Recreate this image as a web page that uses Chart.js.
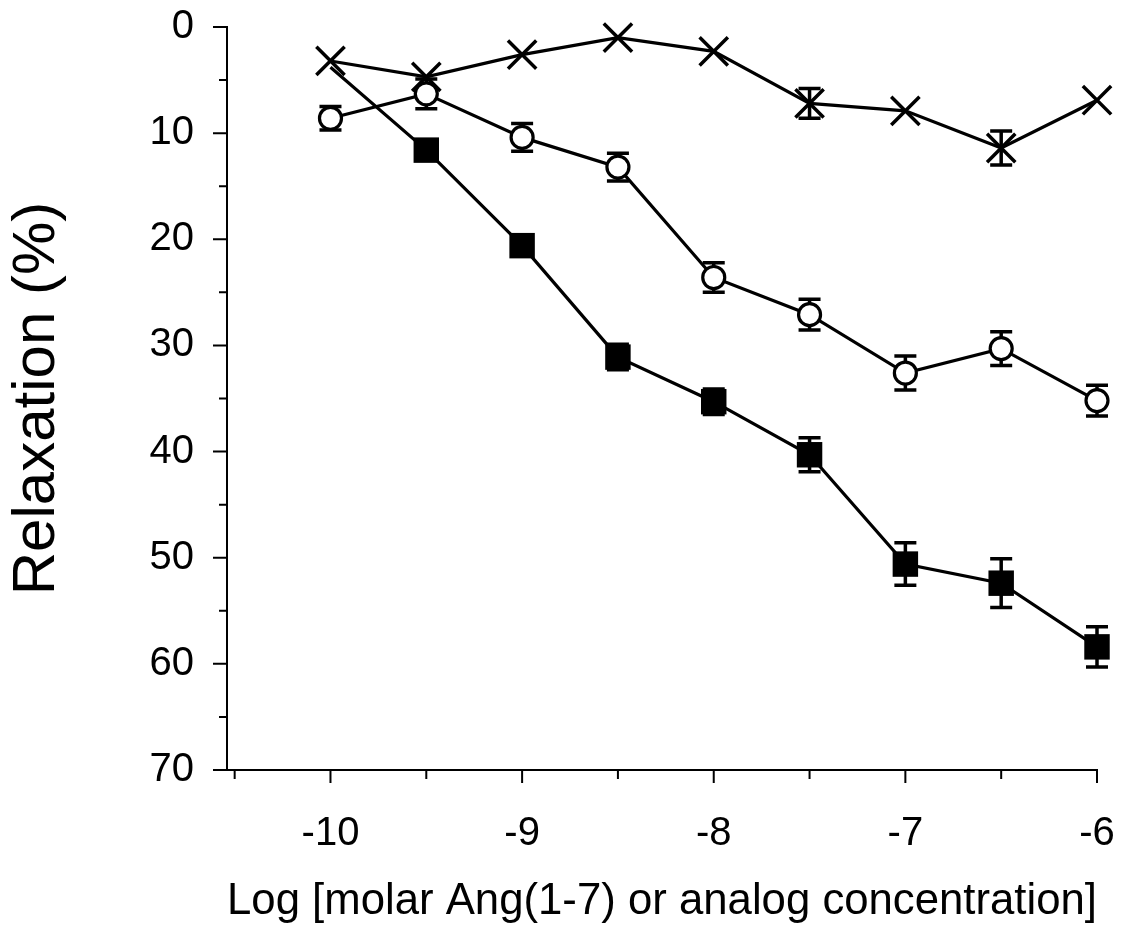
<!DOCTYPE html>
<html>
<head>
<meta charset="utf-8">
<script src="https://cdn.jsdelivr.net/npm/chart.js@4.4.1/dist/chart.umd.min.js"></script>
<style>
  body { margin: 0; background: #fff; }
</style>
</head>
<body>
<canvas id="chart" width="1130" height="934"></canvas>
<script>
// Log concentración (eje X)
const logConc = [-10, -9.5, -9, -8.5, -8, -7.5, -7, -6.5, -6];

// Serie X (cruces)
const crossVals = [3.2, 4.7, 2.6, 1.0, 2.3, 7.2, 7.9, 11.4, 6.9];
const crossErr = [0, 0, 0, 0, 0, 1.4, 0, 1.6, 0];

// Serie círculos abiertos
const circleVals = [8.6, 6.3, 10.4, 13.2, 23.6, 27.1, 32.6, 30.3, 35.2];
const circleErr = [1.1, 1.4, 1.3, 1.3, 1.4, 1.45, 1.6, 1.6, 1.45];

// Serie cuadrados llenos
const squareVals = [3.8, 11.6, 20.6, 31.1, 35.3, 40.3, 50.6, 52.4, 58.4];
const squareErr = [0, 0.9, 0.9, 1.2, 1.2, 1.6, 2.0, 2.3, 1.9];

const FONT = "Arial, 'Liberation Sans', sans-serif";

function toPoints(vals) {
    return logConc.map((x, i) => ({ x: x, y: vals[i] }));
}

// Barras de error (se dibujan antes que los marcadores para que queden debajo)
const errorBarsPlugin = {
    id: 'errorBars',
    beforeDatasetsDraw(chart) {
        const { ctx, scales: { x, y } } = chart;
        ctx.save();
        ctx.strokeStyle = '#000';
        ctx.lineWidth = 3.5;
        chart.data.datasets.forEach((ds) => {
            ds.errors.forEach((e, i) => {
                if (!e) return;
                const px = x.getPixelForValue(ds.data[i].x);
                const top = y.getPixelForValue(ds.data[i].y - e);
                const bot = y.getPixelForValue(ds.data[i].y + e);
                const cap = 11;
                ctx.beginPath();
                ctx.moveTo(px, top);
                ctx.lineTo(px, bot);
                ctx.moveTo(px - cap, top);
                ctx.lineTo(px + cap, top);
                ctx.moveTo(px - cap, bot);
                ctx.lineTo(px + cap, bot);
                ctx.stroke();
            });
        });
        ctx.restore();
    }
};

// Marcas de los ejes (mayores y menores, hacia afuera)
const axisTicksPlugin = {
    id: 'axisTicks',
    afterDraw(chart) {
        const { ctx, scales: { x, y } } = chart;
        ctx.save();
        ctx.strokeStyle = '#000';
        ctx.lineWidth = 2;
        ctx.beginPath();
        y.ticks.forEach((t) => {
            const py = y.getPixelForValue(t.value);
            const len = t.value % 10 === 0 ? 14 : 8;
            ctx.moveTo(x.left - len, py);
            ctx.lineTo(x.left, py);
        });
        x.ticks.forEach((t) => {
            const px = x.getPixelForValue(t.value);
            const len = Number.isInteger(t.value) ? 13 : 9;
            ctx.moveTo(px, y.bottom);
            ctx.lineTo(px, y.bottom + len);
        });
        ctx.stroke();
        ctx.restore();
    }
};

new Chart(document.getElementById('chart').getContext('2d'), {
    type: 'line',
    data: {
        datasets: [
            {
                label: 'Cruces',
                data: toPoints(crossVals),
                errors: crossErr,
                borderColor: '#000',
                borderWidth: 3.2,
                pointStyle: 'crossRot',
                pointRadius: 20,
                pointBorderWidth: 3.5,
                pointBorderColor: '#000',
                clip: false
            },
            {
                label: 'Círculos',
                data: toPoints(circleVals),
                errors: circleErr,
                borderColor: '#000',
                borderWidth: 3.2,
                pointStyle: 'circle',
                pointRadius: 11,
                pointBorderWidth: 3.2,
                pointBorderColor: '#000',
                pointBackgroundColor: '#fff',
                clip: false
            },
            {
                label: 'Cuadrados',
                data: toPoints(squareVals),
                errors: squareErr,
                borderColor: '#000',
                borderWidth: 3.2,
                pointStyle: 'rect',
                pointRadius: [0, 18, 18, 18, 18, 18, 18, 18, 18],
                pointBorderWidth: 0,
                pointBackgroundColor: '#000',
                clip: false
            }
        ]
    },
    options: {
        responsive: false,
        animation: false,
        layout: {
            autoPadding: false,
            padding: { left: 0, right: 33, top: 27, bottom: 0 }
        },
        plugins: {
            legend: { display: false },
            tooltip: { enabled: false }
        },
        scales: {
            x: {
                type: 'linear',
                min: -10.54,
                max: -6,
                afterFit: (scale) => {
                    scale.height = 164;
                    scale.paddingLeft = 0;
                    scale.paddingRight = 0;
                },
                grid: { display: false, drawTicks: false },
                border: { display: true, color: '#000', width: 2 },
                ticks: {
                    stepSize: 0.5,
                    includeBounds: false,
                    autoSkip: false,
                    maxRotation: 0,
                    padding: 40,
                    color: '#000',
                    font: { family: FONT, size: 40 },
                    callback: (v) => Number.isInteger(v) ? String(v) : ''
                },
                title: {
                    display: true,
                    text: 'Log [molar Ang(1-7) or analog concentration]',
                    color: '#000',
                    font: { family: FONT, size: 45 },
                    padding: { top: 0, bottom: 5 }
                }
            },
            y: {
                reverse: true,
                min: 0,
                max: 70,
                afterFit: (scale) => {
                    scale.width = 227;
                    scale.paddingTop = 0;
                    scale.paddingBottom = 0;
                },
                grid: { display: false, drawTicks: false },
                border: { display: true, color: '#000', width: 2 },
                ticks: {
                    stepSize: 5,
                    autoSkip: false,
                    padding: 33,
                    color: '#000',
                    font: { family: FONT, size: 40 },
                    callback: (v) => v % 10 === 0 ? String(v) : ''
                },
                title: {
                    display: true,
                    text: 'Relaxation (%)',
                    color: '#000',
                    font: { family: FONT, size: 60 },
                    padding: { top: 1, bottom: 0 }
                }
            }
        }
    },
    plugins: [errorBarsPlugin, axisTicksPlugin]
});
</script>
</body>
</html>
